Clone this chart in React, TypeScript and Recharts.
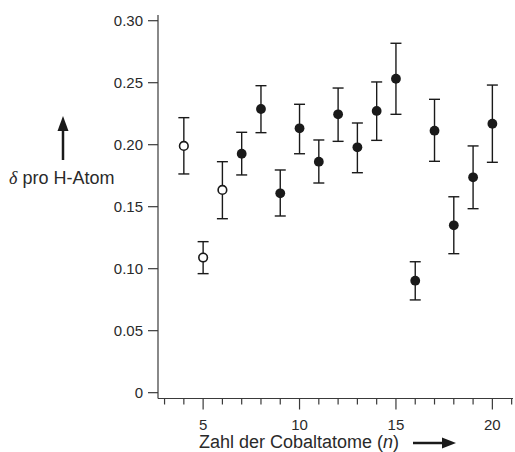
import React from "react";
import { ScatterChart, Scatter, XAxis, YAxis, ErrorBar } from "recharts";

// open circles (n = 4..6)
const openN = [4, 5, 6];
const openDelta = [0.199, 0.109, 0.1635];
const openLow = [0.1764, 0.096, 0.1403];
const openHigh = [0.2218, 0.1218, 0.1863];

// filled circles (n = 7..20)
const filledN = [7, 8, 9, 10, 11, 12, 13, 14, 15, 16, 17, 18, 19, 20];
const filledDelta = [0.1927, 0.2288, 0.1608, 0.2132, 0.1863, 0.2245, 0.1979, 0.2272, 0.2532, 0.0903, 0.2113, 0.135, 0.1737, 0.2169];
const filledLow = [0.1756, 0.2097, 0.1425, 0.1927, 0.1691, 0.2027, 0.1774, 0.2035, 0.2245, 0.0748, 0.1866, 0.1121, 0.1484, 0.1858];
const filledHigh = [0.21, 0.2476, 0.1796, 0.2326, 0.2038, 0.2457, 0.2175, 0.2506, 0.2818, 0.1056, 0.2366, 0.158, 0.199, 0.2481];

const xTicks = [3, 4, 5, 6, 7, 8, 9, 10, 11, 12, 13, 14, 15, 16, 17, 18, 19, 20, 21];
const xLabeled = [5, 10, 15, 20];
const yTicks = [0, 0.05, 0.1, 0.15, 0.2, 0.25, 0.3];

const AXIS = "#3a3a3a";
const TEXT = "#2a2a2a";
const INK = "#1a1a1a";

const rows = (n: number[], d: number[], lo: number[], hi: number[]) =>
  n.map((v, i) => ({ n: v, delta: d[i], err: [d[i] - lo[i], hi[i] - d[i]] }));

const openData = rows(openN, openDelta, openLow, openHigh);
const filledData = rows(filledN, filledDelta, filledLow, filledHigh);

const XTick = (props: any) => {
  const { x, y, payload } = props;
  const major = xLabeled.includes(payload.value);
  return (
    <g>
      <line x1={x} x2={x} y1={y} y2={y + (major ? 11 : 6)} stroke={AXIS} strokeWidth={1.2} />
      {major && (
        <text x={x} y={y + 31} textAnchor="middle" fontSize={15} fill={TEXT}>
          {payload.value}
        </text>
      )}
    </g>
  );
};

const XTitle = () => (
  <g>
    <text x={199} y={448} fontSize={18} fill={TEXT}>
      Zahl der Cobaltatome (<tspan fontStyle="italic">n</tspan>)
    </text>
    <line x1={413} x2={444} y1={443} y2={443} stroke={INK} strokeWidth={2.5} />
    <polygon points="456,443 442,437.5 442,448.5" fill={INK} />
  </g>
);

const YTitle = () => (
  <g>
    <line x1={63} x2={63} y1={160} y2={128} stroke={INK} strokeWidth={2.5} />
    <polygon points="63,116 57.5,131 68.5,131" fill={INK} />
    <text x={9} y={184} fontSize={18} fill={TEXT}>
      <tspan fontFamily="'Liberation Serif', serif" fontStyle="italic">δ</tspan> pro H-Atom
    </text>
  </g>
);

const openDot = (p: any) => (
  <circle cx={p.cx} cy={p.cy} r={4.3} fill="#fff" stroke={INK} strokeWidth={1.6} />
);
const filledDot = (p: any) => <circle cx={p.cx} cy={p.cy} r={4.9} fill={INK} />;

export default function App() {
  return (
    <div style={{ position: "absolute", left: 0, top: 0 }}>
      <ScatterChart
        width={515}
        height={452}
        margin={{ top: 15, right: 2, bottom: 23.5, left: 98 }}
        style={{ fontFamily: "'Liberation Sans', Arial, sans-serif" }}
      >
        <XAxis
          type="number"
          dataKey="n"
          domain={[2.66, 21.07]}
          allowDataOverflow
          ticks={xTicks}
          interval={0}
          height={30}
          tickSize={0}
          tickMargin={0}
          tickLine={false}
          tick={<XTick />}
          axisLine={{ stroke: AXIS, strokeWidth: 1.2 }}
          label={{ content: () => <XTitle /> }}
        />
        <YAxis
          type="number"
          dataKey="delta"
          domain={[-0.0047, 0.3046]}
          allowDataOverflow
          ticks={yTicks}
          interval={0}
          width={60}
          tickSize={10}
          tickMargin={5}
          tickFormatter={(v: number) => (v === 0 ? "0" : v.toFixed(2))}
          tick={{ fontSize: 15, fill: TEXT }}
          tickLine={{ stroke: AXIS, strokeWidth: 1.2 }}
          axisLine={{ stroke: AXIS, strokeWidth: 1.2 }}
          label={{ content: () => <YTitle /> }}
        />
        <Scatter data={openData} shape={openDot} isAnimationActive={false}>
          <ErrorBar dataKey="err" direction="y" width={5.5} stroke={INK} strokeWidth={1.4} />
        </Scatter>
        <Scatter data={filledData} shape={filledDot} isAnimationActive={false}>
          <ErrorBar dataKey="err" direction="y" width={5.5} stroke={INK} strokeWidth={1.4} />
        </Scatter>
      </ScatterChart>
    </div>
  );
}
